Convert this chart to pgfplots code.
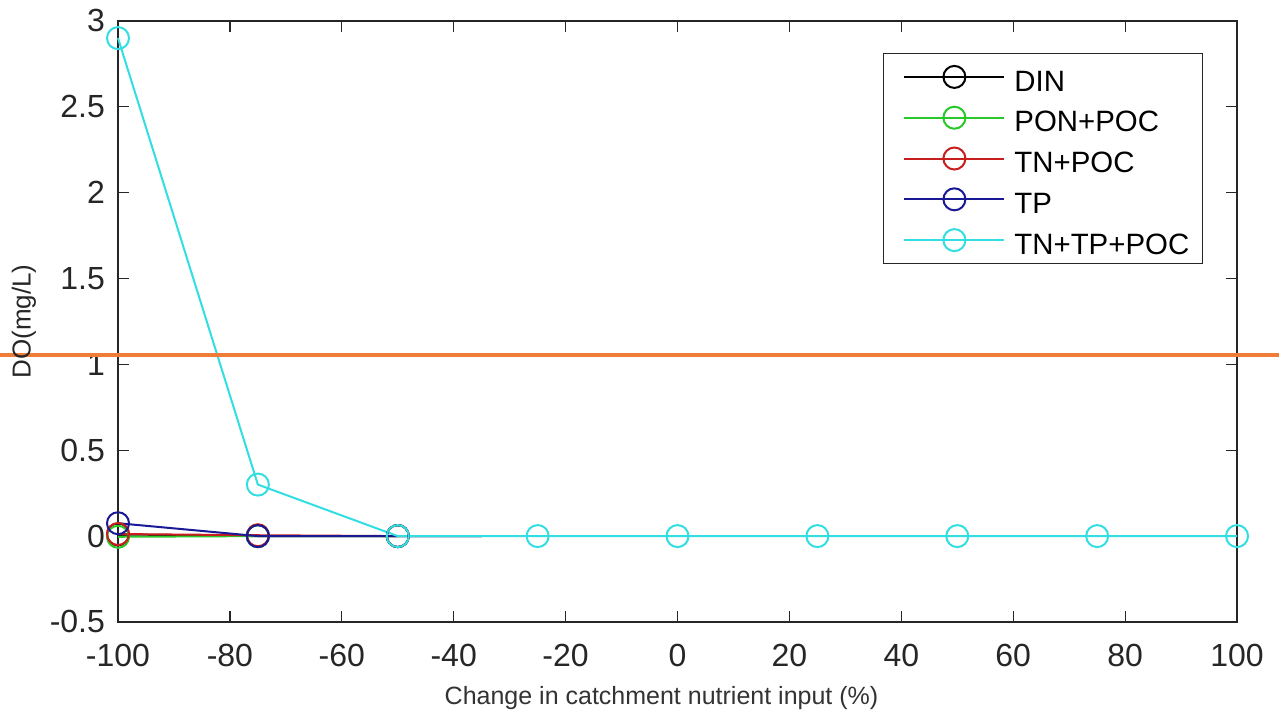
\documentclass[border=0pt]{standalone}
\usepackage{pgfplots}
\pgfplotsset{compat=1.18}
\usepackage{fontspec}
\setmainfont{Liberation Sans}
\definecolor{cG}{RGB}{40,200,40}
\definecolor{cR}{RGB}{200,30,30}
\definecolor{cB}{RGB}{25,25,150}
\definecolor{cC}{RGB}{50,222,225}
\definecolor{cO}{RGB}{240,125,55}
\begin{document}
\begin{tikzpicture}
\begin{axis}[
  scale only axis,
  width=559.5pt, height=300.5pt,
  xmin=-100, xmax=100, ymin=-0.5, ymax=3,
  clip=false,
  axis line style={black!85, line width=0.6pt},
  tick style={black!85, line width=0.6pt},
  tick align=inside,
  major tick length=5.5pt,
  xtick={-100,-80,-60,-40,-20,0,20,40,60,80,100},
  xticklabels={-100,-80,-60,-40,-20,0,20,40,60,80,100},
  ytick={-0.5,0,0.5,1,1.5,2,2.5,3},
  yticklabels={-0.5,0,0.5,1,1.5,2,2.5,3},
  ticklabel style={font=\fontsize{16}{19}\selectfont, text=black!85},
  xticklabel style={yshift=-7.5pt},
  yticklabel style={xshift=-3pt},
  xlabel={Change in catchment nutrient input (\%)},
  ylabel={DO(mg/L)},
  xlabel style={font=\fontsize{12.5}{15}\selectfont, text=black!80, yshift=-3pt, xshift=-8pt},
  ylabel style={font=\fontsize{13}{15}\selectfont, text=black!85, yshift=0pt},
  legend style={
    at={(rel axis cs:0.9696,0.9468)}, anchor=north east,
    draw=black!85, line width=0.6pt,
    font=\fontsize{14.7}{17}\selectfont,
    inner xsep=6.1pt, inner ysep=1.5pt,
    nodes={inner xsep=0.5pt, inner ysep=2pt, text height=15.25pt, text depth=1.15pt},
    row sep=0pt,
    /tikz/every odd column/.append style={column sep=4pt},
  },
  legend cell align=left,
  legend image code/.code={
    \path (0pt,0pt);
    \draw[#1, mark indices={2}] plot coordinates {(3.9pt,0pt) (28.9pt,0pt) (53.9pt,0pt)};
  },
  every axis plot/.append style={line width=1pt, mark=o, mark size=5.5pt, mark options={line width=1pt}},
]
\addplot[black, mark indices={1,2,3}] coordinates {(-100,0.01) (-75,0) (-50,0) (-35,0)};
\addlegendentry{DIN}
\addplot[cG] coordinates {(-100,-0.004) (-75,0) (-50,0)};
\addlegendentry{PON+POC}
\addplot[cR] coordinates {(-100,0.012) (-75,0.005) (-50,0)};
\addlegendentry{TN+POC}
\addplot[cB, mark indices={1,2,3}] coordinates {(-100,0.075) (-75,0) (-50,0) (-35,0)};
\addlegendentry{TP}
\addplot[cC] coordinates {(-100,2.9) (-75,0.3) (-50,0) (-25,0) (0,0) (25,0) (50,0) (75,0) (100,0)};
\addlegendentry{TN+TP+POC}
\addplot[cO, line width=2pt, mark=none, forget plot] coordinates {(-121.09,1.054) (107.5,1.054)};
\coordinate (bbA) at (axis cs:-121.09,3.122);
\coordinate (bbB) at (axis cs:107.5,-1.048);
\end{axis}
\pgfresetboundingbox
\path (bbA) rectangle (bbB);
\end{tikzpicture}
\end{document}
